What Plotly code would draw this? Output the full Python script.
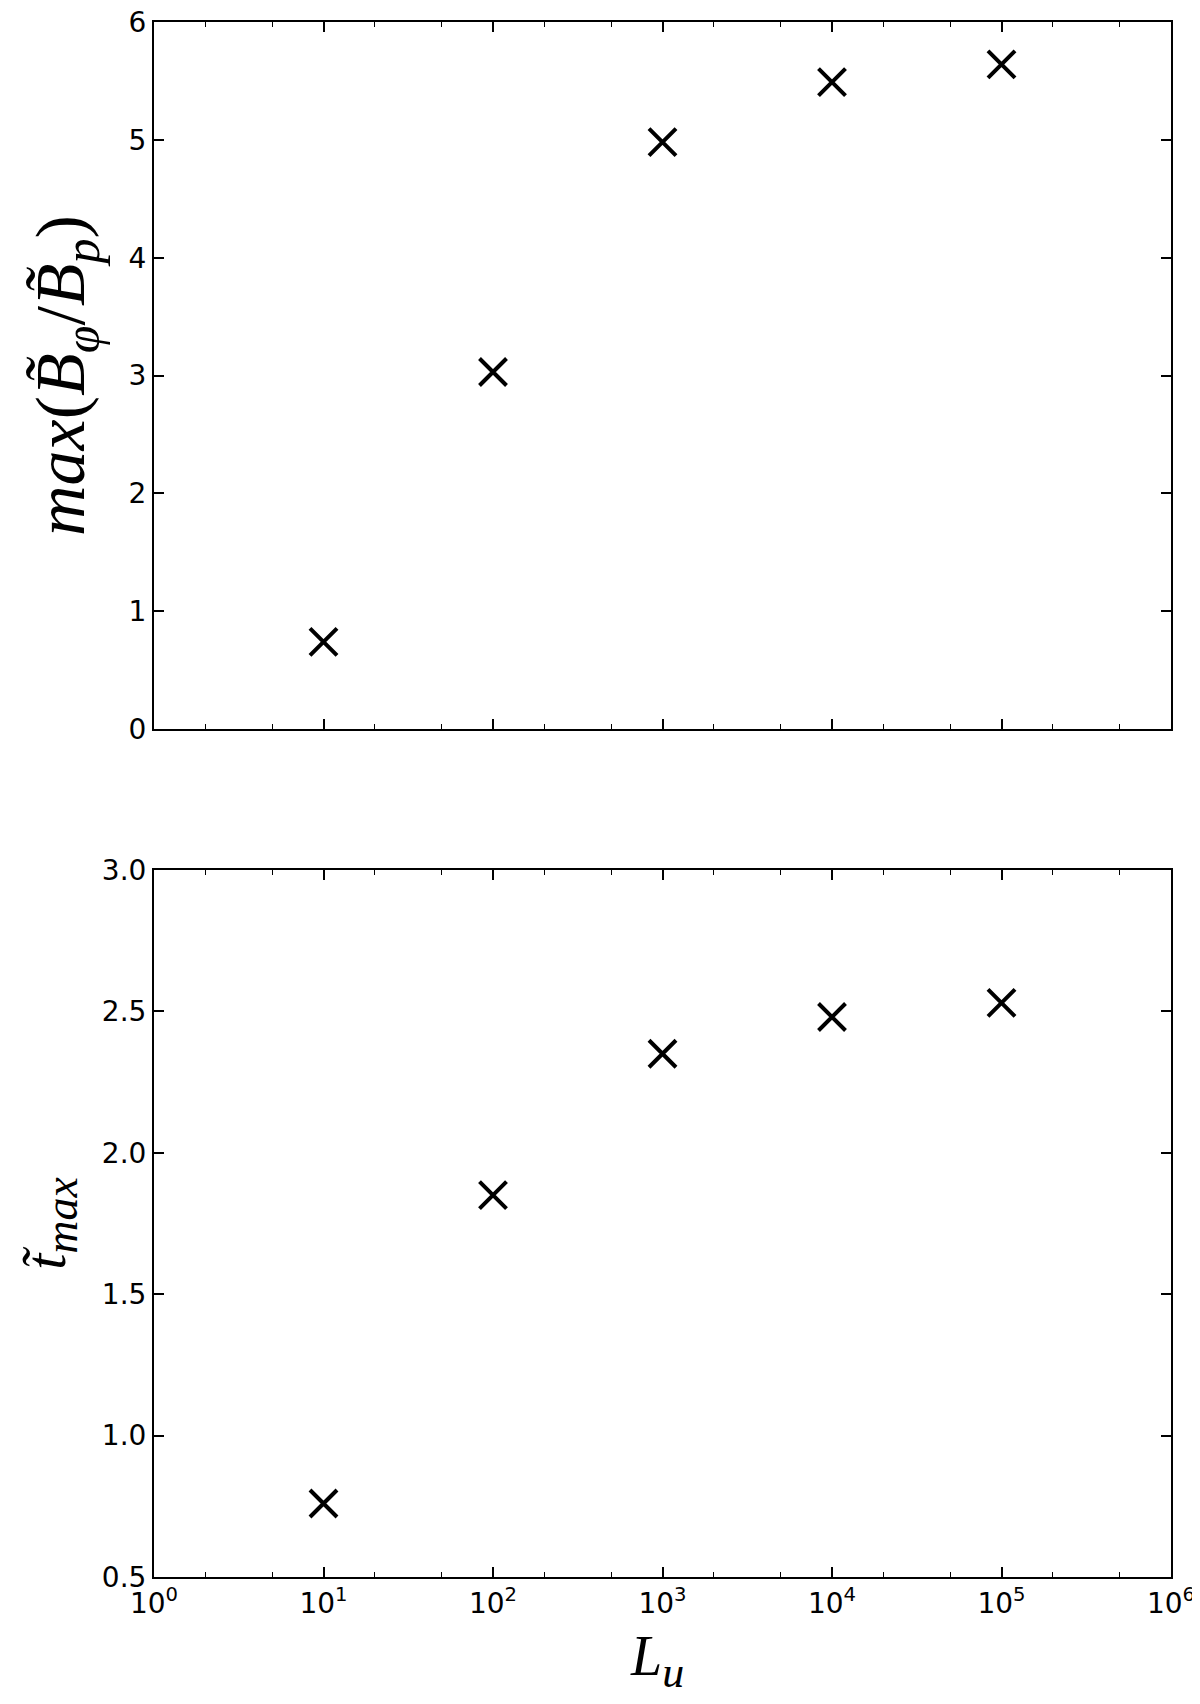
import plotly.graph_objects as go

# data
L_u = [1e1, 1e2, 1e3, 1e4, 1e5]
ratio_max = [0.74, 3.03, 4.98, 5.49, 5.64]
t_max = [0.76, 1.85, 2.35, 2.48, 2.53]

x_tickvals = [1e0, 1e1, 1e2, 1e3, 1e4, 1e5, 1e6]
x_ticktext = ["10<sup>%d</sup>" % i for i in range(7)]
top_yticks = [0, 1, 2, 3, 4, 5, 6]
bot_yticks = [0.5, 1.0, 1.5, 2.0, 2.5, 3.0]

tick_font = dict(family="DejaVu Sans", size=28, color="black")


def sub(txt, px):
    return "<sub><span style='font-size:%dpx'><i>%s</i></span></sub>" % (px, txt)


top_title = "<i>max</i>(<i>B̃</i>" + sub("φ", 50) + "/<i>B̃</i>" + sub("p", 50) + ")"
bot_title = "<i>t̃</i>" + sub("max", 46)
x_title = "<i>L</i>" + sub("u", 44)

marker = dict(symbol="x-thin", size=27, color="black",
              line=dict(width=4, color="black"))

fig = go.Figure()
fig.add_trace(go.Scatter(x=L_u, y=ratio_max, mode="markers", marker=marker,
                         xaxis="x", yaxis="y", showlegend=False))
fig.add_trace(go.Scatter(x=L_u, y=t_max, mode="markers", marker=marker,
                         xaxis="x2", yaxis="y2", showlegend=False))

xcommon = dict(type="log", range=[0, 6], tickvals=x_tickvals, ticktext=x_ticktext,
               showline=True, linecolor="black", linewidth=2, mirror="ticks",
               ticks="inside", ticklen=10, tickwidth=1.5, tickcolor="black",
               showgrid=False, zeroline=False, tickfont=tick_font,
               ticklabeloverflow="allow", automargin=False,
               minor=dict(ticks="inside", ticklen=5, tickwidth=1.2,
                          tickcolor="black", showgrid=False))
ycommon = dict(showline=True, linecolor="black", linewidth=2, mirror="ticks",
               ticks="inside", ticklen=10, tickwidth=1.5, tickcolor="black",
               showgrid=False, zeroline=False, tickfont=tick_font,
               ticklabeloverflow="allow", automargin=False)

# the page body adds an 8px margin, so the figure is 8px smaller than the window
fig.update_layout(
    width=1192, height=1696,
    margin=dict(l=146, r=29, t=14, b=127),
    paper_bgcolor="white", plot_bgcolor="white",
    xaxis=dict(xcommon, anchor="y", showticklabels=False, matches="x2"),
    yaxis=dict(ycommon, domain=[0.5453, 1], range=[0, 6], tickvals=top_yticks,
               title=dict(text=top_title, standoff=21,
                          font=dict(family="Liberation Serif", size=70, color="black"))),
    xaxis2=dict(xcommon, anchor="y2"),
    yaxis2=dict(ycommon, domain=[0, 0.4547], range=[0.5, 3.0], tickvals=bot_yticks,
                tickformat=".1f",
                title=dict(text=bot_title, standoff=18,
                           font=dict(family="Liberation Serif", size=58, color="black"))),
    annotations=[dict(text=x_title, xref="paper", yref="paper", x=0.495, y=-0.0296,
                      xanchor="center", yanchor="top", showarrow=False,
                      font=dict(family="Liberation Serif", size=56, color="black"))],
)

fig.write_html("out.html")
